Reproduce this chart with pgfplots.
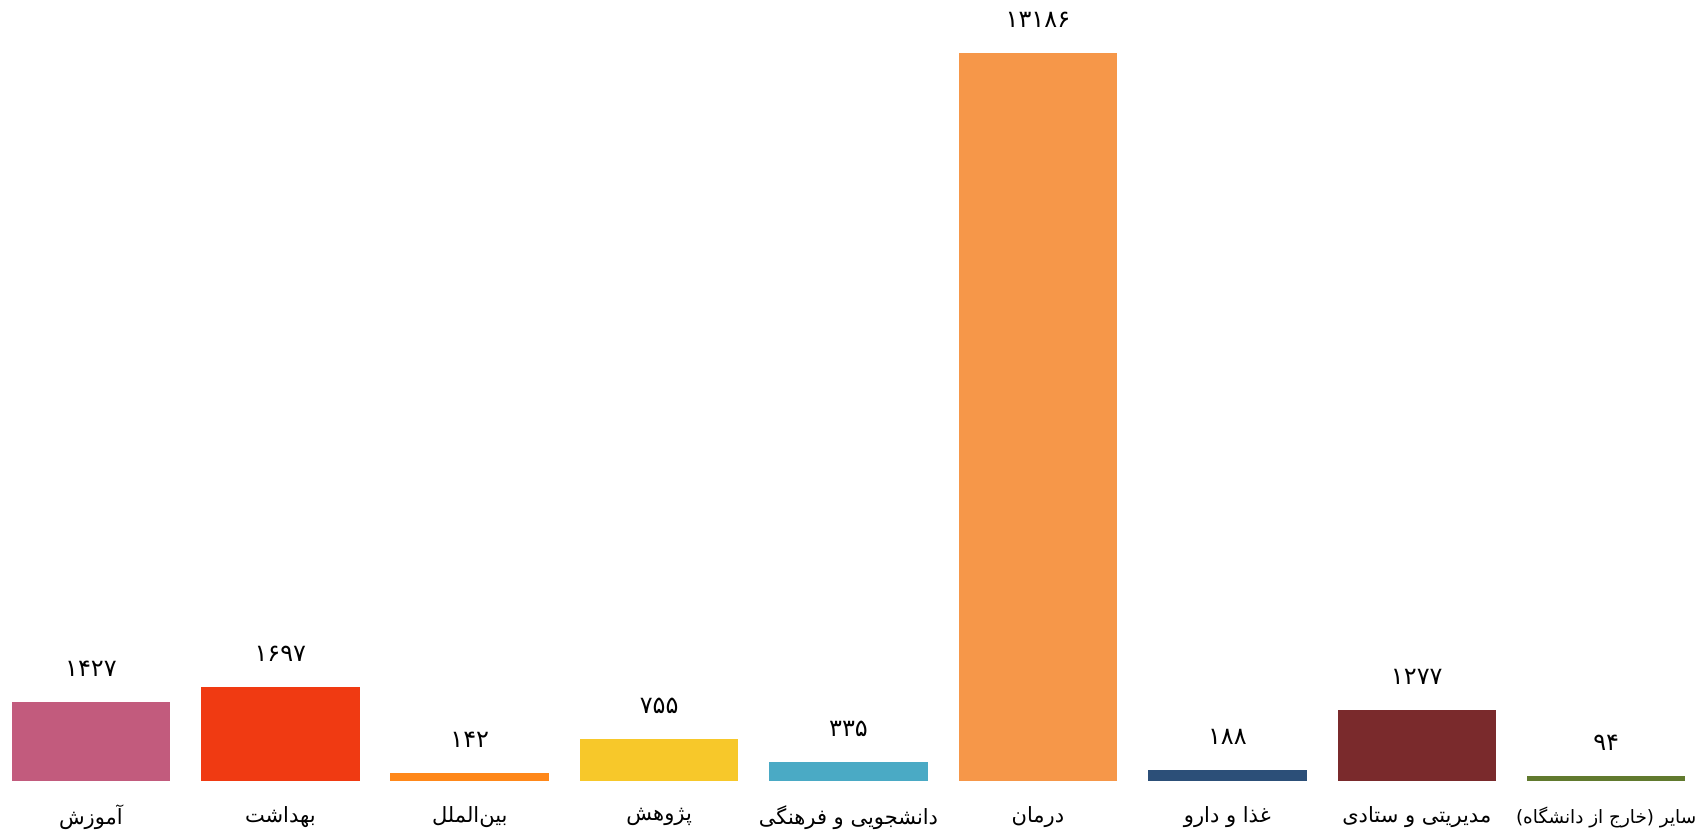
\documentclass[border=0pt]{standalone}
\usepackage{fontspec}
\usepackage{pgfplots}
\pgfplotsset{compat=1.18}
\TeXXeTstate=1
\newfontfamily\arabicfont[Script=Arabic]{DejaVu Sans}
\definecolor{c1}{RGB}{194,91,125}
\definecolor{c2}{RGB}{240,58,18}
\definecolor{c3}{RGB}{255,136,26}
\definecolor{c4}{RGB}{247,200,42}
\definecolor{c5}{RGB}{74,170,197}
\definecolor{c6}{RGB}{246,151,73}
\definecolor{c7}{RGB}{44,79,120}
\definecolor{c8}{RGB}{122,42,44}
\definecolor{c9}{RGB}{97,122,46}
\begin{document}
\begin{tikzpicture}
\useasboundingbox (0,-25.65pt) rectangle (851pt,390.35pt);
\begin{axis}[
  name=ax, at={(0,0)}, anchor=south west,
  scale only axis, width=851pt, height=390.35pt,
  xmin=-0.48, xmax=8.506, ymin=0, ymax=14141,
  ybar, bar width=79.25pt, bar shift=0pt,
  axis line style={draw=none}, tick style={draw=none},
  ytick=\empty,
  xtick={0,1,2,3,4,5,6,7,8},
  xticklabels={
    {\arabicfont\beginR آموزش\endR},
    {\arabicfont\beginR بهداشت\endR},
    {\arabicfont\beginR بین‌الملل\endR},
    {\arabicfont\beginR پژوهش\endR},
    {\arabicfont\beginR دانشجویی و فرهنگی\endR},
    {\arabicfont\beginR درمان\endR},
    {\arabicfont\beginR غذا و دارو\endR},
    {\arabicfont\beginR مدیریتی و ستادی\endR},
    {\arabicfont\fontsize{9.2}{11}\selectfont\beginR سایر (خارج از دانشگاه)\endR}},
  xticklabel style={anchor=center, yshift=-14pt, font=\fontsize{10.5}{12}\selectfont},
  clip=false,
  every node near coord/.append style={anchor=center, yshift=16.5pt, font=\arabicfont\fontsize{12}{14}\selectfont, text=black},
]
\addplot[fill=c1, draw=none, nodes near coords={۱۴۲۷}] coordinates {(0,1427)};
\addplot[fill=c2, draw=none, nodes near coords={۱۶۹۷}] coordinates {(1,1697)};
\addplot[fill=c3, draw=none, nodes near coords={۱۴۲}] coordinates {(2,142)};
\addplot[fill=c4, draw=none, nodes near coords={۷۵۵}] coordinates {(3,755)};
\addplot[fill=c5, draw=none, nodes near coords={۳۳۵}] coordinates {(4,335)};
\addplot[fill=c6, draw=none, nodes near coords={۱۳۱۸۶}] coordinates {(5,13186)};
\addplot[fill=c7, draw=none, nodes near coords={۱۸۸}] coordinates {(6,188)};
\addplot[fill=c8, draw=none, nodes near coords={۱۲۷۷}] coordinates {(7,1277)};
\addplot[fill=c9, draw=none, nodes near coords={۹۴}] coordinates {(8,94)};
\end{axis}
\end{tikzpicture}
\end{document}
